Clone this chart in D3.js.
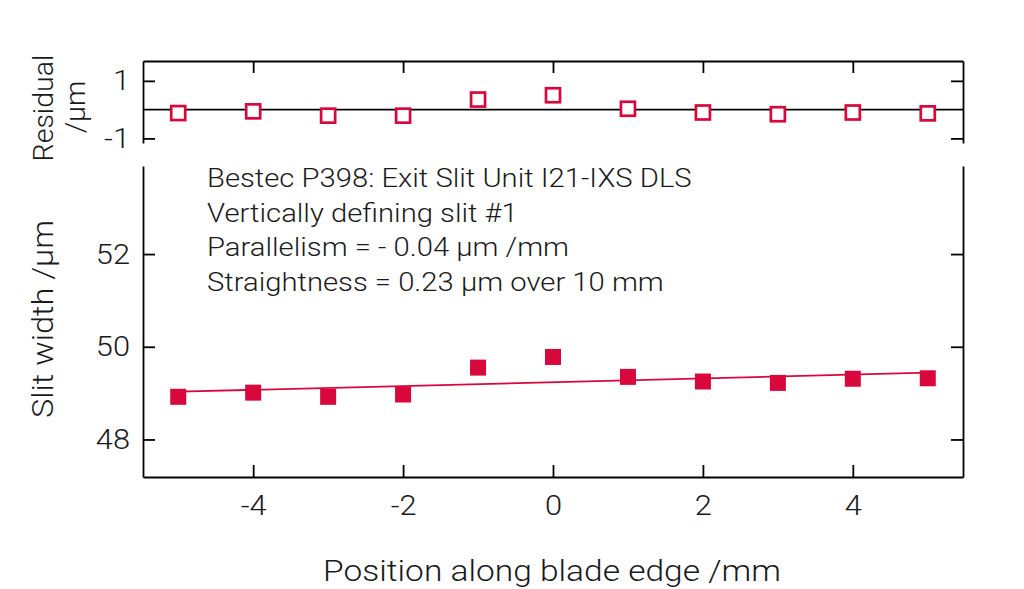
<!DOCTYPE html>
<html>
<head>
<meta charset="utf-8">
<script src="https://cdn.jsdelivr.net/npm/d3@7"></script>
<style>
  html, body { margin: 0; padding: 0; background: #fff; }
  svg { display: block; }
  text { font-family: Roboto, "Liberation Sans", sans-serif; font-weight: 300; fill: #1a1a1a; }
</style>
</head>
<body>
<svg id="chart" width="1024" height="589"></svg>
<script>
// ---- data ----
const positions = [-5, -4, -3, -2, -1, 0, 1, 2, 3, 4, 5];            // mm
const slitWidth = [48.92, 49.01, 48.92, 48.97, 49.55, 49.78, 49.35, 49.25, 49.22, 49.31, 49.32]; // µm
const residuals = [-0.12, -0.06, -0.21, -0.21, 0.35, 0.50, 0.03, -0.10, -0.16, -0.10, -0.13];    // µm
const fitX = [-5, 5];
const fitY = [49.03, 49.44];
const xTicks = [-4, -2, 0, 2, 4];
const mainYTicks = [48, 50, 52];
const residYTicks = [-1, 1];
const annotation = [
  "Bestec P398: Exit Slit Unit I21-IXS DLS",
  "Vertically defining slit #1",
  "Parallelism = - 0.04 µm /mm",
  "Straightness = 0.23 µm over 10 mm"
];

const red = "#d9083c";
const ink = "#1a1a1a";
const svg = d3.select("#chart");

const left = 143, right = 963;
const x = d3.scaleLinear().domain([-5.47, 5.47]).range([left, right]);

// main panel
const mTop = 166, mBottom = 477;
const y = d3.scaleLinear().domain([47.19, 53.9]).range([mBottom, mTop]);
// residual panel
const rTop = 61, rBottom = 143;
const yr = d3.scaleLinear().domain([-1.16, 1.69]).range([rBottom, rTop]);

const tickLen = 12;
const lw = 1.8;
const tickFont = 28;
const tickStretch = 1.1;
const fmt = d => (d < 0 ? "-" : "") + Math.abs(d);

function styleAxis(g) {
  g.selectAll("path.domain").attr("stroke", "#000").attr("stroke-width", lw);
  g.selectAll(".tick line").attr("stroke", "#000").attr("stroke-width", lw);
  g.selectAll(".tick text")
    .style("font-family", "Roboto, 'Liberation Sans', sans-serif")
    .style("font-weight", 300).attr("font-size", tickFont).attr("fill", ink);
}
function stretchLeftLabels(g, pad) {
  g.selectAll(".tick text").attr("x", 0)
    .attr("transform", `translate(${-pad},0) scale(${tickStretch},1)`);
}

// ---------- residual panel ----------
svg.append("line")
  .attr("x1", left).attr("x2", right)
  .attr("y1", yr(0)).attr("y2", yr(0))
  .attr("stroke", "#000").attr("stroke-width", lw);

svg.append("g").attr("transform", `translate(0,${rTop})`)
  .call(d3.axisTop(x).tickValues(xTicks).tickSizeInner(-tickLen).tickSizeOuter(0).tickFormat(""))
  .call(styleAxis);
svg.append("g").attr("transform", `translate(${left},0)`)
  .call(d3.axisLeft(yr).tickValues(residYTicks).tickSizeInner(-tickLen).tickSizeOuter(0).tickFormat(fmt))
  .call(styleAxis).call(g => stretchLeftLabels(g, 13));
svg.append("g").attr("transform", `translate(${right},0)`)
  .call(d3.axisRight(yr).tickValues(residYTicks).tickSizeInner(-tickLen).tickSizeOuter(0).tickFormat(""))
  .call(styleAxis);

const rs = 14;
svg.append("g").selectAll("rect")
  .data(positions.map((p, i) => ({ p, r: residuals[i] })))
  .join("rect")
  .attr("x", d => x(d.p) - rs / 2)
  .attr("y", d => yr(d.r) - rs / 2)
  .attr("width", rs).attr("height", rs)
  .attr("fill", "#fff")
  .attr("stroke", red).attr("stroke-width", 2.7);

// ---------- main panel ----------
svg.append("g").attr("transform", `translate(0,${mBottom})`)
  .call(d3.axisBottom(x).tickValues(xTicks).tickSizeInner(-tickLen).tickSizeOuter(0).tickPadding(18).tickFormat(fmt))
  .call(styleAxis)
  .call(g => g.selectAll(".tick text").attr("transform", `scale(${tickStretch},1)`).attr("x", 0));
svg.append("g").attr("transform", `translate(${left},0)`)
  .call(d3.axisLeft(y).tickValues(mainYTicks).tickSizeInner(-tickLen).tickSizeOuter(0).tickFormat(fmt))
  .call(styleAxis).call(g => stretchLeftLabels(g, 13));
svg.append("g").attr("transform", `translate(${right},0)`)
  .call(d3.axisRight(y).tickValues(mainYTicks).tickSizeInner(-tickLen).tickSizeOuter(0).tickFormat(""))
  .call(styleAxis);

const line = d3.line().x(d => x(d[0])).y(d => y(d[1]));
svg.append("path")
  .datum(fitX.map((v, i) => [v, fitY[i]]))
  .attr("d", line)
  .attr("fill", "none").attr("stroke", red).attr("stroke-width", 1.8);

const ms = 16;
svg.append("g").selectAll("rect")
  .data(positions.map((p, i) => ({ p, w: slitWidth[i] })))
  .join("rect")
  .attr("x", d => x(d.p) - ms / 2)
  .attr("y", d => y(d.w) - ms / 2)
  .attr("width", ms).attr("height", ms)
  .attr("fill", red);

// ---------- text with horizontal stretch fitted to reference widths ----------
function measure(str, size) {
  const t = svg.append("text").attr("font-size", size).text(str);
  const w = t.node().getComputedTextLength();
  t.remove();
  return w;
}

const annSize = 25;
const annStretch = 485 / measure(annotation[0], annSize);
svg.append("g").selectAll("text")
  .data(annotation)
  .join("text")
  .attr("transform", (d, i) => `translate(207,${187 + i * 34.6}) scale(${annStretch},1)`)
  .attr("font-size", annSize)
  .text(d => d);

const titleSize = 30;
const titleStr = "Position along blade edge /mm";
const titleStretch = 458 / measure(titleStr, titleSize);
svg.append("text")
  .attr("transform", `translate(552,581) scale(${titleStretch},1)`)
  .attr("text-anchor", "middle")
  .attr("font-size", titleSize)
  .text(titleStr);

const yTitleStr = "Slit width /µm";
const yTitleStretch = 198 / measure(yTitleStr, titleSize);
svg.append("text")
  .attr("transform", `translate(53,319) rotate(-90) scale(${yTitleStretch},1)`)
  .attr("text-anchor", "middle")
  .attr("font-size", titleSize)
  .text(yTitleStr);

const resSize = 28;
const resStretch = 107 / measure("Residual", resSize);
svg.append("text")
  .attr("transform", `translate(53,108) rotate(-90) scale(${resStretch},1)`)
  .attr("text-anchor", "middle")
  .attr("font-size", resSize)
  .text("Residual");
svg.append("text")
  .attr("transform", `translate(85,107) rotate(-90) scale(${resStretch},1)`)
  .attr("text-anchor", "middle")
  .attr("font-size", resSize)
  .text("/µm");
</script>
</body>
</html>
